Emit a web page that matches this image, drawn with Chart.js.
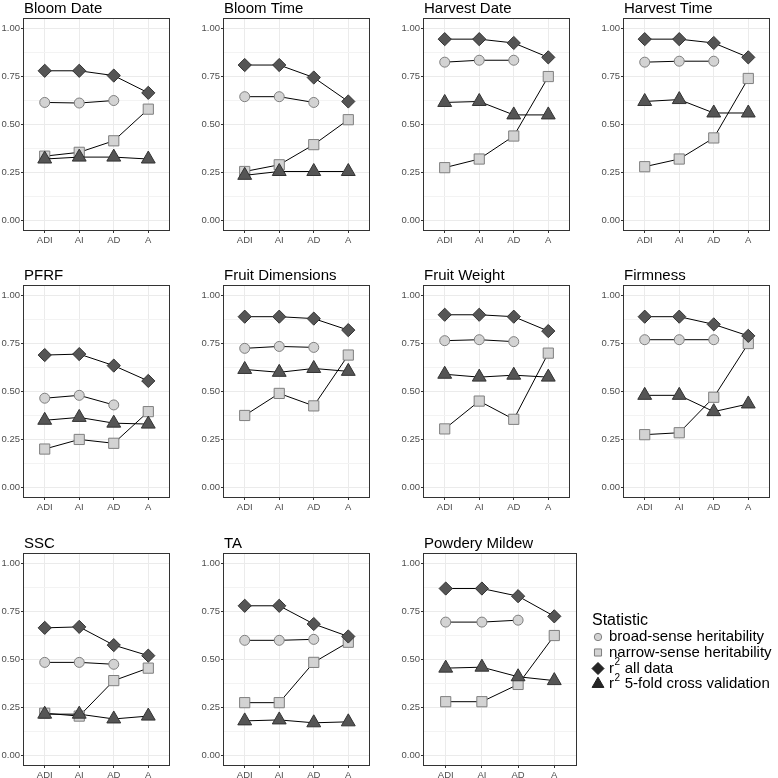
<!DOCTYPE html>
<html>
<head>
<meta charset="utf-8">
<script src="https://cdn.jsdelivr.net/npm/chart.js@4/dist/chart.umd.min.js"></script>
<style>
  body { margin: 0; background: #fff; width: 778px; height: 778px; position: relative; overflow: hidden; }
  canvas { position: absolute; }
</style>
</head>
<body>
<script>
// x categories (model) and facet names
const models = ["ADI", "AI", "AD", "A"];
const traits = ["Bloom Date", "Bloom Time", "Harvest Date", "Harvest Time",
                "PFRF", "Fruit Dimensions", "Fruit Weight", "Firmness",
                "SSC", "TA", "Powdery Mildew"];

// one row per trait, one value per model (null = not estimated)
const broadSense = [
  [0.615, 0.612, 0.625, null],
  [0.645, 0.645, 0.615, null],
  [0.825, 0.835, 0.835, null],
  [0.825, 0.83, 0.83, null],
  [0.465, 0.48, 0.43, null],
  [0.725, 0.735, 0.73, null],
  [0.765, 0.77, 0.76, null],
  [0.77, 0.77, 0.77, null],
  [0.485, 0.485, 0.475, null],
  [0.6, 0.6, 0.605, null],
  [0.695, 0.695, 0.705, null]
];
const narrowSense = [
  [0.335, 0.355, 0.415, 0.58],
  [0.255, 0.29, 0.395, 0.525],
  [0.275, 0.32, 0.44, 0.75],
  [0.28, 0.32, 0.43, 0.74],
  [0.2, 0.25, 0.23, 0.395],
  [0.375, 0.49, 0.425, 0.69],
  [0.305, 0.45, 0.355, 0.7],
  [0.275, 0.285, 0.47, 0.75],
  [0.22, 0.205, 0.39, 0.455],
  [0.275, 0.275, 0.485, 0.59],
  [0.28, 0.28, 0.37, 0.625]
];
const r2All = [
  [0.78, 0.78, 0.755, 0.665],
  [0.81, 0.81, 0.745, 0.62],
  [0.945, 0.945, 0.925, 0.85],
  [0.945, 0.945, 0.925, 0.85],
  [0.69, 0.695, 0.635, 0.555],
  [0.89, 0.89, 0.88, 0.82],
  [0.9, 0.9, 0.89, 0.815],
  [0.89, 0.89, 0.85, 0.79],
  [0.665, 0.67, 0.575, 0.52],
  [0.78, 0.78, 0.685, 0.62],
  [0.87, 0.87, 0.83, 0.725]
];
const r2CV = [
  [0.32, 0.33, 0.33, 0.32],
  [0.235, 0.255, 0.255, 0.255],
  [0.615, 0.62, 0.55, 0.55],
  [0.62, 0.63, 0.56, 0.56],
  [0.35, 0.365, 0.335, 0.33],
  [0.615, 0.6, 0.62, 0.605],
  [0.59, 0.575, 0.585, 0.575],
  [0.48, 0.48, 0.395, 0.435],
  [0.215, 0.215, 0.19, 0.205],
  [0.18, 0.185, 0.17, 0.175],
  [0.455, 0.46, 0.41, 0.39]
];
const seriesLabels = ["broad-sense heritability", "narrow-sense heritability",
                      "r² all data", "r² 5-fold cross validation"];
const legendTitle = "Statistic";
const yTicks = [0, 0.25, 0.5, 0.75, 1];
const yMinor = [0.125, 0.375, 0.625, 0.875];

const family = "'Liberation Sans', Arial, Helvetica, sans-serif";
const styles = [
  {pointStyle: 'circle',   radius: 5,   bg: '#D3D3D3', border: '#7F7F7F', key: 3.7, order: 3},
  {pointStyle: 'rect',     radius: 7.2, bg: '#D3D3D3', border: '#7F7F7F', key: 5,   order: 2},
  {pointStyle: 'rectRot',  radius: 6.6, bg: '#555555', border: '#333333', key: 6,   order: 1},
  {pointStyle: 'triangle', radius: 8,   bg: '#555555', border: '#333333', key: 6.8, order: 0}
];

const colX = [0, 200, 400, 600];
const rowY = [0, 267, 535];

function isMajor(v) { return yTicks.some(t => Math.abs(t - v) < 1e-9); }

// ggplot-ish panel border
const panelBorder = {
  id: 'panelBorder',
  afterDatasetsDraw(chart) {
    const {left, top, right, bottom} = chart.chartArea;
    const ctx = chart.ctx;
    ctx.save();
    ctx.strokeStyle = '#333333';
    ctx.lineWidth = 1;
    ctx.strokeRect(left - 0.5, top - 0.5, right - left + 1, bottom - top + 1);
    ctx.restore();
  }
};

// legend in the empty facet slot, with the superscript 2
const statLegend = {
  id: 'statLegend',
  afterDraw(chart, args, opts) {
    if (!opts.show) return;
    const ctx = chart.ctx;
    const x0 = chart.chartArea.right + 16;
    const y0 = chart.chartArea.top;
    ctx.save();
    ctx.fillStyle = '#000';
    ctx.textBaseline = 'middle';
    ctx.font = '16px ' + family;
    ctx.fillText(legendTitle, x0, y0 + 67);
    const rows = [83, 98.5, 114.5, 130];
    seriesLabels.forEach((lab, i) => {
      const st = styles[i];
      const y = y0 + rows[i];
      ctx.fillStyle = i > 1 ? '#262626' : st.bg;
      ctx.strokeStyle = i > 1 ? '#1a1a1a' : st.border;
      ctx.lineWidth = 1;
      Chart.helpers.drawPoint(ctx, {pointStyle: st.pointStyle, radius: st.key, rotation: 0, borderWidth: 1}, x0 + 6, y);
      ctx.fillStyle = '#000';
      let x = x0 + 17;
      const parts = lab.split('²');
      ctx.font = '15px ' + family;
      ctx.fillText(parts[0], x, y);
      x += ctx.measureText(parts[0]).width;
      if (parts.length > 1) {
        ctx.font = '10px ' + family;
        ctx.fillText('2', x + 0.5, y - 6);
        x += ctx.measureText('2').width + 1;
        ctx.font = '15px ' + family;
        ctx.fillText(parts[1], x, y);
      }
    });
    ctx.restore();
  }
};

traits.forEach((trait, i) => {
  const col = i % 4, row = Math.floor(i / 4);
  const isLast = i === traits.length - 1;
  const w = isLast ? 378 : 178, h = 252;
  const cv = document.createElement('canvas');
  cv.width = w; cv.height = h;
  cv.style.left = colX[col] + 'px';
  cv.style.top = rowY[row] + 'px';
  cv.style.width = w + 'px'; cv.style.height = h + 'px';
  document.body.appendChild(cv);

  const series = [broadSense[i], narrowSense[i], r2All[i], r2CV[i]];
  const datasets = series.map((vals, k) => ({
    label: seriesLabels[k],
    data: vals.map((v, j) => ({x: j, y: v})),
    borderColor: '#000',
    borderWidth: 1,
    pointStyle: styles[k].pointStyle,
    pointRadius: styles[k].radius,
    pointBackgroundColor: styles[k].bg,
    pointBorderColor: styles[k].border,
    pointBorderWidth: 1,
    tension: 0,
    spanGaps: false,
    order: styles[k].order,
    clip: false
  }));

  new Chart(cv, {
    type: 'line',
    data: {datasets},
    options: {
      responsive: false,
      animation: false,
      events: [],
      layout: {padding: {left: 0, right: isLast ? 202 : 2, top: 0, bottom: 2}},
      plugins: {
        legend: {display: false},
        tooltip: {enabled: false},
        title: {
          display: true, text: trait, align: 'start', fullSize: false,
          color: '#000', font: {size: 15, family, weight: 'normal', lineHeight: 1.2},
          padding: {top: 0, bottom: 1}
        },
        statLegend: {show: isLast}
      },
      scales: {
        x: {
          type: 'linear', min: -0.6, max: 3.6,
          afterBuildTicks: s => { s.ticks = models.map((m, j) => ({value: j})); },
          afterFit: s => { s.height = 20; },
          ticks: {autoSkip: false, maxRotation: 0, padding: 2, color: '#4D4D4D',
                  font: {size: 9.5, family}, callback: v => models[v]},
          grid: {color: '#EBEBEB', lineWidth: 1, tickLength: 3, tickColor: '#333333'},
          border: {display: false}
        },
        y: {
          type: 'linear', min: -0.05, max: 1.05,
          afterBuildTicks: s => {
            s.ticks = yTicks.concat(yMinor).sort((a, b) => a - b).map(v => ({value: v}));
          },
          afterFit: s => { s.width = 24; },
          ticks: {autoSkip: false, padding: 1, color: '#4D4D4D', font: {size: 9.5, family},
                  callback: v => isMajor(v) ? v.toFixed(2) : ''},
          grid: {
            color: c => (c.tick && !isMajor(c.tick.value)) ? '#F3F3F3' : '#EBEBEB',
            lineWidth: 1,
            tickLength: 3,
            tickColor: c => (c.tick && !isMajor(c.tick.value)) ? 'rgba(0,0,0,0)' : '#333333'
          },
          border: {display: false}
        }
      }
    },
    plugins: [panelBorder, statLegend]
  });
});
</script>
</body>
</html>
